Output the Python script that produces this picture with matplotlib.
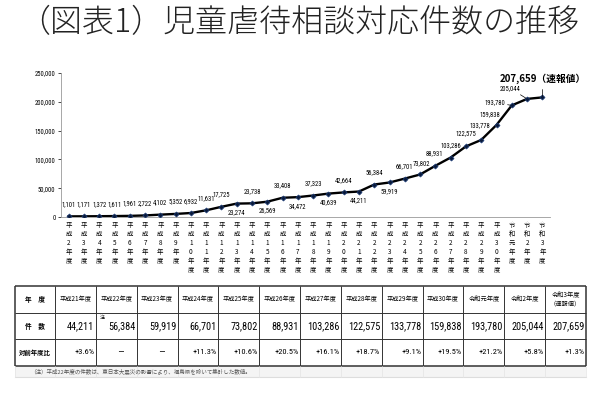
import matplotlib
matplotlib.use("Agg")
import matplotlib.pyplot as plt
from matplotlib import font_manager as fm
import numpy as np

plt.rcParams['font.family'] = ['Noto Sans CJK JP', 'DejaVu Sans']
_names = {f.name for f in fm.fontManager.ttflist}
_narrow = [n for n in ['Liberation Sans Narrow', 'Roboto Condensed', 'Open Sans Condensed']
           if n in _names]
if _narrow:
    NARROW = dict(family=[_narrow[0]])
else:
    NARROW = dict(family=['DejaVu Sans'], stretch='condensed')

# ---------------- data ----------------
title = "（図表1）児童虐待相談対応件数の推移"
categories = ["平成2年度", "平成3年度", "平成4年度", "平成5年度", "平成6年度", "平成7年度",
              "平成8年度", "平成9年度", "平成10年度", "平成11年度", "平成12年度", "平成13年度",
              "平成14年度", "平成15年度", "平成16年度", "平成17年度", "平成18年度", "平成19年度",
              "平成20年度", "平成21年度", "平成22年度", "平成23年度", "平成24年度", "平成25年度",
              "平成26年度", "平成27年度", "平成28年度", "平成29年度", "平成30年度", "令和元年度",
              "令和2年度", "令和3年度"]
values = [1101, 1171, 1372, 1611, 1961, 2722, 4102, 5352, 6932, 11631, 17725, 23274,
          23738, 26569, 33408, 34472, 37323, 40639, 42664, 44211, 56384, 59919, 66701, 73802,
          88931, 103286, 122575, 133778, 159838, 193780, 205044, 207659]
y_ticks = [0, 50000, 100000, 150000, 200000, 250000]
last_suffix = "（速報値）"

table_head_label = "年　度"
table_count_label = "件　数"
table_ratio_label = "対前年度比"
table_years = ["平成21年度", "平成22年度", "平成23年度", "平成24年度", "平成25年度", "平成26年度",
               "平成27年度", "平成28年度", "平成29年度", "平成30年度", "令和元年度", "令和2年度",
               "令和3年度\n（速報値）"]
table_counts = [44211, 56384, 59919, 66701, 73802, 88931, 103286, 122575, 133778, 159838,
                193780, 205044, 207659]
table_ratios = ["+3.6%", "－", "－", "+11.3%", "+10.6%", "+20.5%", "+16.1%", "+18.7%",
                "+9.1%", "+19.5%", "+21.2%", "+5.8%", "+1.3%"]
note = "（注）平成22年度の件数は、東日本大震災の影響により、福島県を除いて集計した数値。"
note_mark = "注"

# label placement: (dx, dy) in points relative to point
offsets = {}
for i in range(11):
    offsets[i] = (0, 8.5)
below = {11, 13, 15, 17, 19, 21}
for i in range(11, 22):
    offsets[i] = (0, -6.5) if i in below else (0, 8.5)
offsets.update({22: (-0.5, 8.5), 23: (0.8, 8.0), 24: (-0.5, 8.5), 25: (0, 8.5),
                26: (0, 9.2), 27: (-0.8, 10.5), 28: (-4.5, 7.5)})

W, H = 600, 396
fig = plt.figure(figsize=(W / 100, H / 100), dpi=100)

# overlay for table / title
ov = fig.add_axes([0, 0, 1, 1])
ov.set_xlim(0, W)
ov.set_ylim(H, 0)
ov.axis('off')

ov.text(299, 23, title, fontsize=23, ha='center', va='center', color='#222222',
        fontweight='light')

# ---------------- chart ----------------
ax = fig.add_axes([61 / W, 1 - 217 / H, 489 / W, 144 / H])
x = np.arange(len(values))
ax.plot(x, values, color='black', lw=1.7, marker='D', markersize=2.6,
        markerfacecolor='#0a1a3a', markeredgecolor='#1f3f7a', markeredgewidth=0.5, zorder=3)
ax.set_xlim(-0.5, len(values) - 0.5)
ax.set_ylim(0, 250000)
ax.set_yticks(y_ticks)
ax.set_yticklabels([f"{v:,}" for v in y_ticks], fontsize=4.8, **NARROW)
ax.set_xticks(x)
ax.set_xticklabels(["\n".join(c) for c in categories], fontsize=4.6, linespacing=1.15,
                   va='top')
ax.tick_params(axis='x', length=0, pad=3)
ax.tick_params(axis='y', length=2, width=0.5, pad=2)
for s in ['top', 'right']:
    ax.spines[s].set_visible(False)
for s in ['left', 'bottom']:
    ax.spines[s].set_color('#999999')
    ax.spines[s].set_linewidth(0.6)
ax.patch.set_alpha(0)

for i, v in enumerate(values):
    if i in offsets:
        dx, dy = offsets[i]
        ax.annotate(f"{v:,}", (i, v), xytext=(dx, dy), textcoords='offset points',
                    ha='center', va='center', fontsize=4.8, **NARROW)

# leader-line labels
ax.annotate(f"{values[29]:,}", (29, values[29]), xytext=(-12.5, 2), textcoords='offset points',
            ha='center', va='center', fontsize=4.8, **NARROW,
            arrowprops=dict(arrowstyle='-', lw=0.5, color='black', shrinkA=0, shrinkB=1))
ax.annotate(f"{values[30]:,}", (30, values[30]), xytext=(-12, 7.5), textcoords='offset points',
            ha='center', va='center', fontsize=4.8, **NARROW,
            arrowprops=dict(arrowstyle='-', lw=0.5, color='black', shrinkA=0, shrinkB=1))
ax.annotate(f"{values[31]:,}{last_suffix}", (31, values[31]), xytext=(0, 13.5),
            textcoords='offset points', ha='center', va='center', fontsize=7,
            fontweight='bold', family=['Noto Sans CJK JP'],
            arrowprops=dict(arrowstyle='-', lw=0.5, color='black', shrinkA=2, shrinkB=1))

# ---------------- table ----------------
left, first_w = 15, 40
right = 586
n = len(table_years)
cw = (right - left - first_w) / n
rows = [286, 313, 339, 366]
note_bottom = 377
col_edges = [left, left + first_w] + [left + first_w + cw * (k + 1) for k in range(n)]
dark = '#333333'

for j, yy in enumerate(rows):
    ov.plot([left, right], [yy, yy], color=dark, lw=1.1 if j in (0, 3) else 0.7,
            solid_capstyle='butt')
for k, xx in enumerate(col_edges):
    ov.plot([xx, xx], [rows[0], rows[-1]], color=dark,
            lw=1.1 if k in (0, len(col_edges) - 1) else 0.7, solid_capstyle='butt')
ov.fill_between([left, right], rows[-1], note_bottom, color='#f4f4f4', lw=0, zorder=0)
ov.plot([left, right], [note_bottom, note_bottom], color='#dddddd', lw=0.8)
for xx in col_edges:
    ov.plot([xx, xx], [rows[-1], note_bottom], color='#e4e4e4', lw=0.5)
ov.text(30, 371.5, note, fontsize=4, color='#555555', ha='left', va='center')

cy = [(rows[r] + rows[r + 1]) / 2 for r in range(3)]
lx = left + first_w / 2
ov.text(lx, cy[0], table_head_label, fontsize=4.8, ha='center', va='center', fontweight='bold')
ov.text(lx, cy[1], table_count_label, fontsize=4.8, ha='center', va='center', fontweight='bold')
ov.text(lx, cy[2], table_ratio_label, fontsize=4.6, ha='center', va='center', fontweight='bold')

for k in range(n):
    x0 = col_edges[k + 1]
    x1 = col_edges[k + 2]
    xc = (x0 + x1) / 2
    ov.text(xc, cy[0], table_years[k], fontsize=4.5, ha='center', va='center',
            linespacing=1.1)
    ov.text(x1 - 1.5, cy[1], f"{table_counts[k]:,}", fontsize=7.4, ha='right', va='center',
            **NARROW)
    r = table_ratios[k]
    if r == "－":
        ov.text(xc + 4, cy[2], "－", fontsize=5, ha='center', va='center')
    else:
        ov.text(x1 - 1.5, cy[2], r, fontsize=6, ha='right', va='center', **NARROW)
ov.text(col_edges[2] + 6.5, 317.5, note_mark, fontsize=3.6, ha='center', va='center')

fig.savefig("out.png", dpi=100)
